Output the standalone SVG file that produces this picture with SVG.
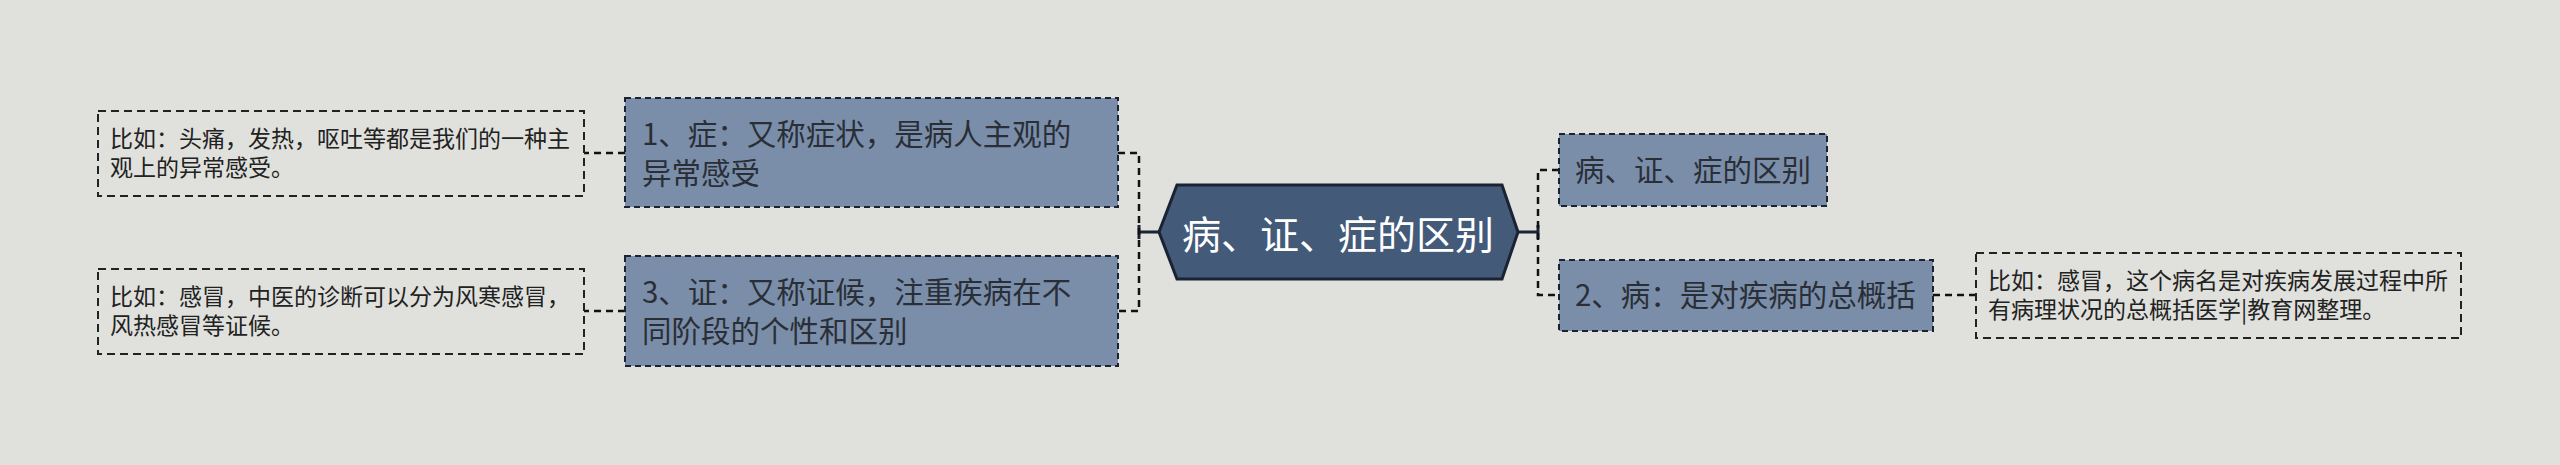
<svg xmlns="http://www.w3.org/2000/svg" width="2560" height="465" viewBox="0 0 2560 465">
<style>
.bg{fill:#e0e1dc}
.node{fill:#7a8eaa;stroke:#1b2330;stroke-width:2;stroke-dasharray:6 4}
.leaf{fill:#e0e1dc;stroke:#222;stroke-width:2;stroke-dasharray:8 5}
.center{fill:#435a79;stroke:#1a2333;stroke-width:3}
.t{font-family:"Noto Sans CJK SC","Noto Sans",sans-serif;fill:#2a2e36}
.nt{font-size:29.5px}
.lt{font-size:23px;fill:#222}
.ct{font-size:39px;fill:#ffffff}
.dash{fill:none;stroke:#111;stroke-width:2.5;stroke-dasharray:7 5}
.solid{fill:none;stroke:#1a2333;stroke-width:3}
</style>
<rect class="bg" x="0" y="0" width="2560" height="465"/>
<g id="connectors">
<path class="solid" d="M1159,232 H1139 M1139,225 V239"/>
<path class="dash" d="M1118,153 H1139 V311 H1118"/>
<path class="solid" d="M1518,232 H1538 M1538,225 V239"/>
<path class="dash" d="M1559,170 H1538 V295 H1559"/>
<path class="dash" d="M625,153 H584"/>
<path class="dash" d="M625,311 H584"/>
<path class="dash" d="M1933,295 H1976"/>
</g>
<g id="center">
<polygon class="center" points="1159,232 1177,185 1502,185 1518,232 1502,279 1177,279"/>
<text class="t ct" x="1338" y="249" text-anchor="middle">病、证、症的区别</text>
</g>
<g id="node1">
<rect class="node" x="625" y="98" width="493" height="109"/>
<text class="t nt" x="642" y="145">1、症：又称症状，是病人主观的</text>
<text class="t nt" x="642" y="184">异常感受</text>
</g>
<g id="leaf1">
<rect class="leaf" x="98" y="111" width="486" height="85"/>
<text class="t lt" x="110" y="147">比如：头痛，发热，呕吐等都是我们的一种主</text>
<text class="t lt" x="110" y="176">观上的异常感受。</text>
</g>
<g id="node3">
<rect class="node" x="625" y="256" width="493" height="110"/>
<text class="t nt" x="642" y="303">3、证：又称证候，注重疾病在不</text>
<text class="t nt" x="642" y="342">同阶段的个性和区别</text>
</g>
<g id="leaf2">
<rect class="leaf" x="98" y="269" width="486" height="85"/>
<text class="t lt" x="110" y="305">比如：感冒，中医的诊断可以分为风寒感冒，</text>
<text class="t lt" x="110" y="334">风热感冒等证候。</text>
</g>
<g id="nodeR1">
<rect class="node" x="1559" y="134" width="268" height="72"/>
<text class="t nt" x="1575" y="181">病、证、症的区别</text>
</g>
<g id="node2">
<rect class="node" x="1559" y="260" width="374" height="71"/>
<text class="t nt" x="1575" y="306">2、病：是对疾病的总概括</text>
</g>
<g id="leaf3">
<rect class="leaf" x="1976" y="253" width="485" height="85"/>
<text class="t lt" x="1988" y="289">比如：感冒，这个病名是对疾病发展过程中所</text>
<text class="t lt" x="1988" y="318">有病理状况的总概括医学|教育网整理。</text>
</g>
</svg>
